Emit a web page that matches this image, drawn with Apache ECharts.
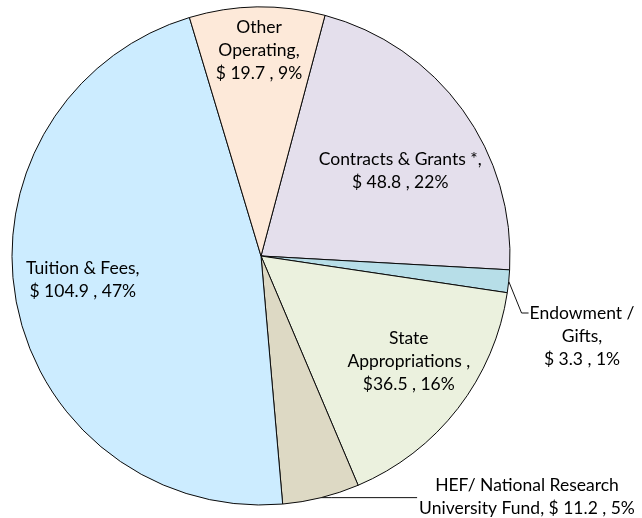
<!DOCTYPE html>
<html>
<head>
<meta charset="utf-8">
<script src="https://cdn.jsdelivr.net/npm/echarts@6/dist/echarts.min.js"></script>
<style>
  html, body { margin: 0; padding: 0; background: #fff; }
  #chart { width: 642px; height: 518px; }
</style>
</head>
<body>
<div id="chart"></div>
<script>
// slice order, clockwise from the Contracts & Grants edge
const categories = ['Contracts & Grants *', 'Endowment / Gifts', 'State Appropriations',
  'HEF/ National Research University Fund', 'Tuition & Fees', 'Other Operating'];
const values = [48.8, 3.3, 36.5, 11.2, 104.9, 19.7];
const labelFormats = [
  'Contracts & Grants *,\n$ {c} , {d}%',
  'Endowment /\nGifts,\n$ {c} , {d}%',
  'State\nAppropriations ,\n${c} , {d}%',
  'HEF/ National Research\nUniversity Fund, $ {c} , {d}%',
  'Tuition & Fees,\n$ {c} , {d}%',
  'Other\nOperating,\n$ {c} , {d}%'
];
const colors = ['#e4dfec', '#b7dee8', '#ebf1de', '#ddd9c4', '#ccecff', '#fde9d9'];
const outside = [false, true, false, true, false, false];
// inside labels: nudge from default spot; outside labels: block centre
const nudges = [[36, -10], null, [47, 27], null, [-53, 0], [0, -78]];
const outsideSpots = [null, [582, 336], null, [527, 497], null, null];
const LINE_H = 23;

const chart = echarts.init(document.getElementById('chart'));

chart.setOption({
  animation: false,
  series: [{
    type: 'pie',
    center: [261, 256],
    radius: [0, 249],
    startAngle: 75.1,
    percentPrecision: 0,
    avoidLabelOverlap: false,
    itemStyle: { borderColor: '#0a0a0a', borderWidth: 1 },
    emphasis: { disabled: true },
    label: {
      position: 'inside',
      fontFamily: 'Lato',
      fontSize: 17.5,
      lineHeight: LINE_H,
      color: '#000',
      align: 'center'
    },
    labelLine: { show: false },
    labelLayout: function (p) {
      const i = p.dataIndex;
      if (!outside[i]) return { dx: nudges[i][0], dy: nudges[i][1] };
      const spot = outsideSpots[i];
      const w = p.labelRect.width, h = p.labelRect.height;
      const left = spot[0] - w / 2;
      const anchor = p.labelLinePoints ? p.labelLinePoints[0] : [left, spot[1]];
      let pts;
      if (i === 1) {
        const y1 = spot[1] - h / 2 + LINE_H / 2;
        pts = [anchor, [left - 8, y1], [left - 1, y1]];
      } else {
        pts = [anchor, [anchor[0] + 10, anchor[1]], [left - 2, anchor[1]]];
      }
      return {
        x: spot[0], y: spot[1], align: 'center', verticalAlign: 'middle',
        labelLinePoints: pts
      };
    },
    data: categories.map(function (name, i) {
      const item = {
        name: name,
        value: values[i],
        itemStyle: { color: colors[i] },
        label: { formatter: labelFormats[i] }
      };
      if (outside[i]) {
        item.label.position = 'outside';
        item.labelLine = {
          show: true,
          length: 10,
          length2: 10,
          lineStyle: { color: '#111', width: 1 }
        };
      }
      return item;
    })
  }]
});
</script>
</body>
</html>
